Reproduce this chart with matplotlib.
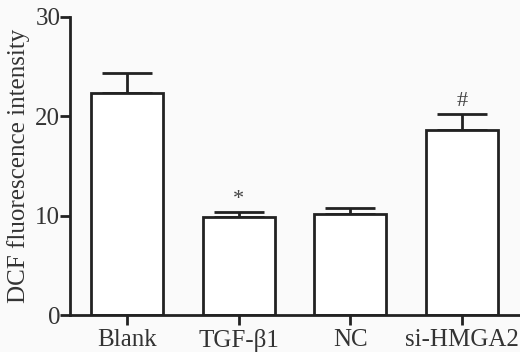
import matplotlib
matplotlib.use("Agg")
import matplotlib.pyplot as plt

categories = ["Blank", "TGF-β1", "NC", "si-HMGA2"]
values = [22.3, 9.85, 10.13, 18.6]
errors = [2.0, 0.55, 0.63, 1.6]
marks = ["", "*", "", "#"]
yticks = [0, 10, 20, 30]

plt.rcParams['font.family'] = ['Liberation Serif', 'DejaVu Serif']

fig = plt.figure(figsize=(5.2, 3.52), dpi=100, facecolor='#fafafa')
ax = fig.add_axes([0.1346, 0.105, 0.8654, 0.8476])
ax.set_facecolor('#fafafa')

x = list(range(len(categories)))
lw = 2.0
ax.bar(x, values, width=0.645, facecolor='white', edgecolor='#222222', linewidth=lw, zorder=2)
ax.errorbar(x, values, yerr=[[0]*len(values), errors], fmt='none', ecolor='#222222',
            elinewidth=lw, capsize=18, capthick=lw, zorder=1)
for xi, v, e, m in zip(x, values, errors, marks):
    if m:
        ax.text(xi, v + e + 0.3, m, ha='center', va='bottom', fontsize=16, color='#444444')

ax.set_xlim(-0.51, 3.52)
ax.set_ylim(0, 30)
ax.set_yticks(yticks)
ax.set_xticks(x)
ax.set_xticklabels(categories)
ax.tick_params(axis='both', direction='out', length=7, width=lw, color='#222222',
               labelsize=18, labelcolor='#333333')
ax.tick_params(axis='x', pad=3)
ax.tick_params(axis='y', pad=0)
for s in ['top', 'right']:
    ax.spines[s].set_visible(False)
for s in ['left', 'bottom']:
    ax.spines[s].set_linewidth(lw)
    ax.spines[s].set_color('#222222')
ax.set_ylabel("DCF fluorescence intensity", fontsize=18, labelpad=4, color='#333333')

fig.savefig("out.png", dpi=100, facecolor=fig.get_facecolor())
